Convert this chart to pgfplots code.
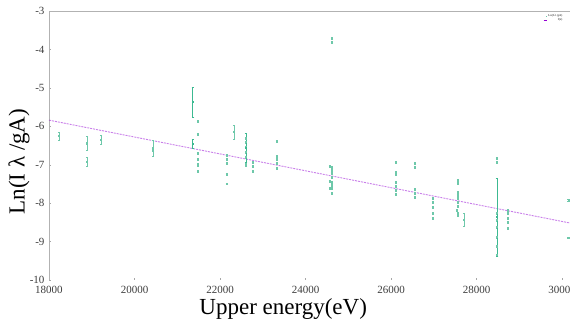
\documentclass[border=0pt]{standalone}
\usepackage{pgfplots}
\pgfplotsset{compat=1.18}
\usepackage{fontspec}
\setmainfont{Liberation Serif}
\definecolor{bargreen}{RGB}{60,185,145}
\definecolor{lgreen}{RGB}{110,200,170}
\definecolor{fitviol}{RGB}{148,0,211}
\definecolor{ticktext}{RGB}{60,60,60}
\begin{document}
\begin{tikzpicture}[x=1pt,y=1pt]
\begin{axis}[
  at={(49pt,49pt)}, anchor=south west,
  scale only axis, width=521.6pt, height=269pt,
  xmin=18000, xmax=30200, ymin=-10, ymax=-3,
  xtick={18000,20000,...,30000},
  ytick={-10,-9,...,-3},
  /pgf/number format/assume math mode=true,
  xticklabel={\pgfmathprintnumber[fixed,1000 sep={}]{\tick}},
  scaled x ticks=false,
  ticklabel style={font=\fontsize{11}{11}\selectfont, text=ticktext},
  xticklabel style={yshift=-3pt},
  yticklabel style={xshift=-1pt},
  tick style={draw=gray!70, thin},
  major tick length=2pt,
  axis line style={draw=none},
  xtick pos=bottom, ytick pos=left,
  xlabel={Upper energy(eV)},
  ylabel={Ln(I λ /gA)},
  label style={font=\fontsize{23}{23}\selectfont},
  xlabel style={at={(axis description cs:0.449,-0.107)}, anchor=center},
  ylabel style={at={(axis description cs:-0.0575,0.44)}, anchor=center, rotate=0},
  clip=false,
  legend style={at={(axis description cs:0.985,0.99)}, anchor=north east, draw=none, fill=none,
    font=\fontsize{3}{3}\selectfont, inner sep=0pt, row sep=0pt,
    nodes={inner sep=0.3pt}},
  legend cell align=right,
  legend image post style={scale=0.25},
]
\draw[gray!60, line width=0.8pt] (rel axis cs:0,0) -- (rel axis cs:0,1) -- (rel axis cs:1,1);

\addplot[fitviol, opacity=0.5, line width=0.9pt, dash pattern=on 2pt off 1pt, forget plot]
  coordinates {(18000,-5.84) (30200,-8.52)};

% measured points with error bars (light)
\addplot[only marks, mark=square*, mark size=0.55pt, color=lgreen,
  /pgfplots/error bars/y dir=both, /pgfplots/error bars/y explicit,
  /pgfplots/error bars/error bar style={color=lgreen, line width=0.45pt},
  /pgfplots/error bars/error mark options={rotate=90, mark size=1.1pt, color=lgreen}]
  table[x=x, y=y, y error=e] {
x y e
18234 -6.25 0.10
18889 -6.44 0.17
18889 -6.93 0.12
19216 -6.35 0.12
20433 -6.57 0.20
20433 -6.62 0.04
21485 -5.86 0.03
21485 -6.20 0.03
21485 -6.70 0.03
21485 -6.85 0.03
21485 -7.00 0.03
21485 -7.17 0.03
22164 -6.75 0.03
22164 -6.85 0.03
22164 -6.96 0.03
22164 -7.24 0.03
22164 -7.50 0.02
22327 -6.15 0.18
22608 -6.31 0.03
22608 -6.41 0.03
22608 -6.54 0.03
22608 -6.67 0.03
22608 -6.80 0.03
22608 -7.00 0.03
22772 -6.93 0.03
22772 -7.04 0.03
22772 -7.17 0.03
23333 -6.39 0.03
23333 -6.78 0.03
23333 -6.85 0.03
23333 -6.96 0.03
23333 -7.09 0.03
24620 -3.70 0.03
24620 -3.81 0.03
24620 -7.06 0.03
24620 -7.14 0.03
24620 -7.22 0.03
24620 -7.32 0.03
24620 -7.45 0.03
24620 -7.53 0.03
24620 -7.61 0.03
24620 -7.74 0.03
24573 -7.03 0.03
24573 -7.42 0.03
24573 -7.61 0.03
26117 -6.93 0.02
26117 -7.19 0.03
26117 -7.24 0.03
26117 -7.45 0.03
26117 -7.56 0.03
26117 -7.66 0.03
26117 -7.77 0.03
26561 -6.96 0.02
26561 -7.06 0.03
26561 -7.64 0.03
26561 -7.74 0.03
26561 -7.84 0.03
26982 -7.87 0.03
26982 -7.97 0.03
26982 -8.10 0.03
26982 -8.26 0.03
26982 -8.39 0.03
27566 -7.40 0.03
27566 -7.48 0.03
27566 -7.71 0.03
27566 -7.79 0.03
27566 -7.87 0.03
27566 -7.97 0.03
27566 -8.08 0.03
27543 -8.18 0.03
27566 -8.26 0.03
27566 -8.31 0.03
27707 -8.43 0.17
28479 -6.83 0.03
28479 -6.93 0.03
28479 -8.26 0.03
28479 -8.44 0.03
28479 -8.62 0.03
28479 -8.88 0.03
28479 -9.12 0.03
28479 -9.35 0.03
28736 -8.18 0.03
28736 -8.26 0.03
28736 -8.39 0.03
28736 -8.49 0.03
28736 -8.65 0.03
30150 -7.92 0.02
30150 -8.90 0.02
};
\addlegendentry{Ln(I λ /gA)}

\addlegendimage{fitviol, dashed}
\addlegendentry{f(x)}

% strongest points with large error bars, drawn after the legend entries
\addplot[only marks, mark=square*, mark size=0.6pt, color=bargreen,
  /pgfplots/error bars/y dir=both, /pgfplots/error bars/y explicit,
  /pgfplots/error bars/error bar style={color=bargreen, line width=1pt},
  /pgfplots/error bars/error mark options={rotate=90, mark size=1.4pt, color=bargreen}]
  table[x=x, y=y, y error=e] {
x y e
21368 -5.37 0.40
21368 -6.45 0.12
22608 -6.56 0.37
28479 -8.36 1.01
};
\end{axis}
\pgfresetboundingbox
\useasboundingbox (0,0) rectangle (570,329);
\end{tikzpicture}
\end{document}
